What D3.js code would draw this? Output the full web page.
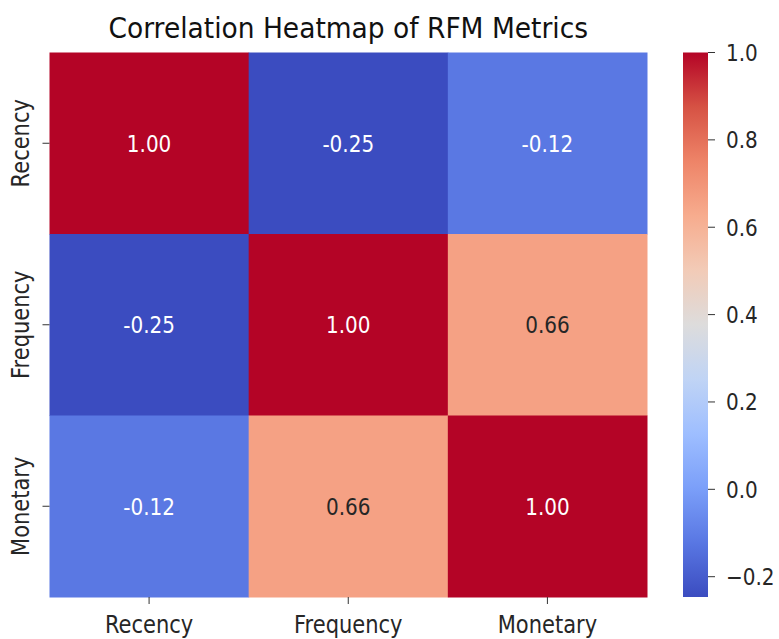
<!DOCTYPE html>
<html>
<head>
<meta charset="utf-8">
<script src="https://cdn.jsdelivr.net/npm/d3@7"></script>
<style>
  body { margin: 0; background: #fff; }
  svg text { font-family: "DejaVu Sans", sans-serif; }
</style>
</head>
<body>
<div id="chart"></div>
<script>
// RFM correlation matrix
const metrics = ["Recency", "Frequency", "Monetary"];
const corr = [
  [1.00, -0.2465, -0.12],
  [-0.2465, 1.00, 0.66],
  [-0.12, 0.66, 1.00]
];
const cbarTicks = [-0.2, 0.0, 0.2, 0.4, 0.6, 0.8, 1.0];
// matplotlib coolwarm sampled at 0, .1, ..., 1
const coolwarm = ["#3b4cc0", "#5977e3", "#7b9ff9", "#9ebeff", "#c0d4f5", "#dddcdc",
                  "#f2cbb7", "#f7ac8e", "#ee8468", "#d65244", "#b40426"];

const W = 779, H = 639;
const sy = 1.16; // glyphs in the picture are a bit taller than wide
const hm = { left: 49.5, right: 647, top: 52.5, bottom: 597 };
const cb = { left: 683, right: 708 };
const tickLen = 7;

const vmin = d3.min(corr.flat()), vmax = 1;
const cmap = d3.scaleLinear()
  .domain(d3.range(coolwarm.length).map(i => vmin + (vmax - vmin) * i / (coolwarm.length - 1)))
  .range(coolwarm)
  .interpolate(d3.interpolateRgb)
  .clamp(true);

const svg = d3.select("#chart").append("svg").attr("width", W).attr("height", H);

const x = d3.scaleBand().domain(metrics).range([hm.left, hm.right]);
const y = d3.scaleBand().domain(metrics).range([hm.top, hm.bottom]);

function txt(g, tx, ty, s, size, scl) {
  return g.append("text")
    .attr("transform", `translate(${tx},${ty}) scale(1,${scl || sy})`)
    .style("font-size", size + "px")
    .text(s);
}

// relative luminance like seaborn uses to pick the annotation colour
function relLum(col) {
  let c = d3.rgb(col);
  let f = v => { v /= 255; return v <= 0.03928 ? v / 12.92 : Math.pow((v + 0.055) / 1.055, 2.4); };
  return 0.2126 * f(c.r) + 0.7152 * f(c.g) + 0.0722 * f(c.b);
}

// cells
let cells = [];
corr.forEach((row, i) => row.forEach((v, j) => cells.push({ r: metrics[i], c: metrics[j], v })));

svg.append("g").selectAll("rect").data(cells).enter().append("rect")
  .attr("x", d => x(d.c)).attr("y", d => y(d.r))
  .attr("width", x.bandwidth() + 0.5).attr("height", y.bandwidth() + 0.5)
  .attr("fill", d => cmap(d.v));

let ann = svg.append("g");
cells.forEach(d => {
  txt(ann, x(d.c) + x.bandwidth() / 2, y(d.r) + y.bandwidth() / 2 + 7.5 * sy, d3.format(".2f")(d.v).replace("−", "-"), 20)
    .attr("text-anchor", "middle")
    .attr("fill", relLum(cmap(d.v)) > 0.408 ? "#262626" : "#ffffff");
});

// x ticks
let gx = svg.append("g");
metrics.forEach(m => {
  let cx = x(m) + x.bandwidth() / 2;
  gx.append("line").attr("x1", cx).attr("x2", cx).attr("y1", hm.bottom).attr("y2", hm.bottom + tickLen)
    .attr("stroke", "#333").attr("stroke-width", 1);
  txt(gx, cx, hm.bottom + 36, m, 21).attr("text-anchor", "middle").attr("fill", "#262626");
});

// y ticks
let gy = svg.append("g");
metrics.forEach(m => {
  let cy = y(m) + y.bandwidth() / 2;
  gy.append("line").attr("x1", hm.left - tickLen).attr("x2", hm.left).attr("y1", cy).attr("y2", cy)
    .attr("stroke", "#333").attr("stroke-width", 1);
  gy.append("text")
    .attr("transform", `translate(29,${cy}) rotate(-90) scale(1,${sy})`)
    .attr("text-anchor", "middle")
    .style("font-size", "21px").attr("fill", "#262626")
    .text(m);
});

// colorbar
const cy = d3.scaleLinear().domain([vmin, vmax]).range([hm.bottom, hm.top]);
const defs = svg.append("defs");
const grad = defs.append("linearGradient").attr("id", "cw").attr("x1", 0).attr("x2", 0).attr("y1", 1).attr("y2", 0);
coolwarm.forEach((c, i) => grad.append("stop").attr("offset", i / (coolwarm.length - 1)).attr("stop-color", c));
svg.append("rect").attr("x", cb.left).attr("y", hm.top)
  .attr("width", cb.right - cb.left).attr("height", hm.bottom - hm.top)
  .attr("fill", "url(#cw)");

let gc = svg.append("g");
cbarTicks.forEach(t => {
  let ty = cy(t);
  gc.append("line").attr("x1", cb.right).attr("x2", cb.right + tickLen).attr("y1", ty).attr("y2", ty)
    .attr("stroke", "#333").attr("stroke-width", 1);
  txt(gc, cb.right + 18, ty + 7.3 * sy, d3.format(".1f")(t), 20).attr("fill", "#262626");
});

// title
txt(svg, (hm.left + hm.right) / 2, 38, "Correlation Heatmap of RFM Metrics", 26.5, 1.05)
  .attr("text-anchor", "middle").attr("fill", "#111");
</script>
</body>
</html>
